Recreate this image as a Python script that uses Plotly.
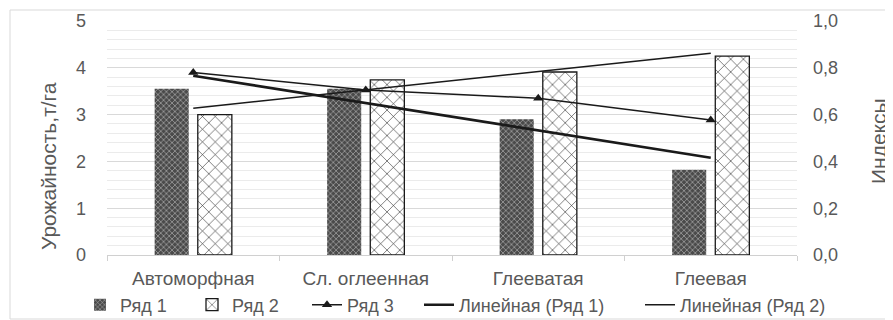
import numpy as np
import plotly.graph_objects as go

categories = ["Автоморфная", "Сл. оглеенная", "Глееватая", "Глеевая"]
ryad1 = [3.55, 3.55, 2.90, 1.82]
ryad2 = [3.00, 3.74, 3.91, 4.25]
ryad3 = [0.78, 0.705, 0.67, 0.577]
names = ["Ряд 1", "Ряд 2", "Ряд 3", "Линейная (Ряд 1)", "Линейная (Ряд 2)"]
y_title = "Урожайность,т/га"
y2_title = "Индексы"

def linear_trend(vals):
    x = np.arange(1, len(vals) + 1)
    k, b = np.polyfit(x, vals, 1)
    return list(k * x + b)

FONT = "Liberation Sans"
GRAY = "#595959"
INK = "#1a1a1a"

def f(size, color=GRAY, fam=FONT):
    return dict(family=fam, size=size, color=color)

W, H = 885, 312          # page has an 8px body margin
OFF = 8
PL, PR, PT, PB = 107, 797, 21, 255   # plot area in page px

leg_text_x = [120, 232, 347, 459, 680]

fig = go.Figure()
fig.add_trace(go.Bar(
    x=categories, y=ryad1, name=names[0], legend="legend",
    marker=dict(color="#5a5a5a", line=dict(width=0),
                pattern=dict(shape="x", fgcolor="#c8c8c8", bgcolor="#4a4a4a",
                             size=4, solidity=0.25, fillmode="replace")),
))
fig.add_trace(go.Bar(
    x=categories, y=ryad2, name=names[1], legend="legend2",
    marker=dict(color="white", line=dict(width=1.3, color=INK),
                pattern=dict(shape="x", fgcolor=INK, bgcolor="white",
                             size=9, solidity=0.12, fillmode="replace")),
))
fig.add_trace(go.Scatter(
    x=categories, y=ryad3, name=names[2], yaxis="y2", mode="lines+markers", legend="legend3",
    line=dict(color=INK, width=1.5),
    marker=dict(symbol="triangle-up", size=9, color=INK),
))
fig.add_trace(go.Scatter(
    x=categories, y=linear_trend(ryad1), name=names[3], mode="lines", legend="legend4",
    line=dict(color=INK, width=2.6),
))
fig.add_trace(go.Scatter(
    x=categories, y=linear_trend(ryad2), name=names[4], mode="lines", legend="legend5",
    line=dict(color=INK, width=1.5),
))

legends = {}
for i, tx in enumerate(leg_text_x):
    key = "legend" if i == 0 else f"legend{i+1}"
    legends[key] = dict(orientation="h", xref="container", yref="container",
                        x=(tx - 40 - OFF) / W, xanchor="left",
                        y=1 - (305 - OFF) / H, yanchor="middle",
                        font=f(18), itemwidth=30, bgcolor="rgba(0,0,0,0)")

pw = PR - PL
ph = PB - PT
def px_x(p):
    return (p - PL) / pw
def px_y(p):
    return (PB - p) / ph

fig.update_layout(
    width=W, height=H,
    margin=dict(l=PL - OFF, r=OFF + W - PR, t=PT - OFF, b=OFF + H - PB, autoexpand=False),
    paper_bgcolor="white", plot_bgcolor="white",
    font=f(18),
    separators=", ",
    barmode="group", bargap=0.5, bargroupgap=0.21,
    showlegend=True,
    xaxis=dict(type="category", showline=True, linecolor="#d0d0d0", linewidth=1,
               ticks="outside", tickson="boundaries", ticklen=5, tickcolor="#d0d0d0",
               showgrid=False, tickfont=f(19), automargin=False, ticklabelstandoff=6),
    yaxis=dict(range=[0, 5], dtick=1, tickformat="d", showgrid=True, gridcolor="#d9d9d9",
               zeroline=False, showline=False, ticks="", ticklabelstandoff=20, automargin=False,
               minor=dict(dtick=0.2, showgrid=True, gridcolor="#ebebeb", gridwidth=1),
               tickfont=f(18)),
    yaxis2=dict(range=[0, 1], dtick=0.2, tickformat=".1f", overlaying="y", side="right",
                showgrid=False, zeroline=False, showline=False, ticks="", automargin=False,
                ticklabelstandoff=15, tickfont=f(18)),
    annotations=[
        dict(text=y_title, textangle=-90, xref="paper", yref="paper",
             x=px_x(48), y=px_y(166), xanchor="center", yanchor="middle",
             showarrow=False, font=f(21)),
        dict(text=y2_title, textangle=-90, xref="paper", yref="paper",
             x=px_x(878), y=px_y(141), xanchor="center", yanchor="middle",
             showarrow=False, font=f(21)),
    ],
    shapes=[dict(type="rect", xref="paper", yref="paper",
                 x0=px_x(10), x1=px_x(892), y0=px_y(319), y1=px_y(10),
                 line=dict(color="#d9d9d9", width=1), fillcolor="rgba(0,0,0,0)", layer="below")],
    **legends,
)

fig.write_html("out.html")
